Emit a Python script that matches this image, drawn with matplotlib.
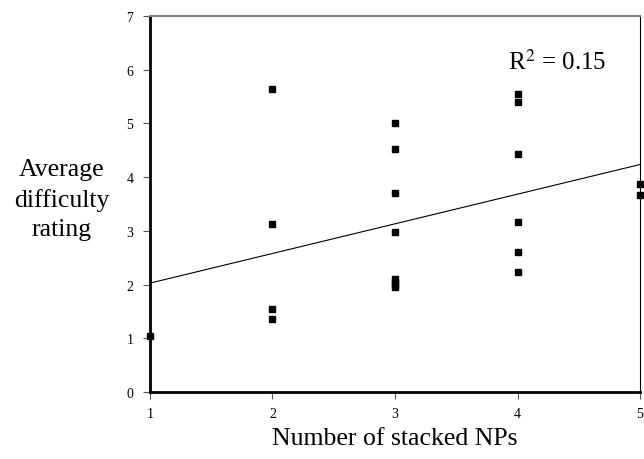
import numpy as np
import matplotlib
matplotlib.use('Agg')
import matplotlib.pyplot as plt

# data
stacked_nps = [1,
               2, 2, 2, 2,
               3, 3, 3, 3, 3, 3, 3, 3,
               4, 4, 4, 4, 4, 4,
               5, 5]
difficulty = [1.05,
              5.65, 3.13, 1.55, 1.35,
              5.0, 4.53, 3.7, 2.98, 2.1, 2.05, 2.0, 1.95,
              5.55, 5.4, 4.43, 3.17, 2.6, 2.24,
              3.87, 3.66]
x_ticks = [1, 2, 3, 4, 5]
y_ticks = [0, 1, 2, 3, 4, 5, 6, 7]

plt.rcParams['font.family'] = ['Liberation Serif', 'DejaVu Serif']

fig = plt.figure(figsize=(6.44, 4.6), dpi=100)
ax = fig.add_axes([0.2329, 0.1457, 0.7609, 0.8173])

ax.plot(stacked_nps, difficulty, 's', color='black', markersize=4.2,
        clip_on=False, zorder=3)

# trend line
slope, intercept = np.polyfit(stacked_nps, difficulty, 1)
xs = np.array([1, 5])
ax.plot(xs, slope * xs + intercept, color='black', linewidth=0.8)

ax.text(3.92, 6.16, r'R$^2$ = 0.15', fontsize=18, va='center', ha='left',
        math_fontfamily='stix')

ax.set_xlim(1, 5)
ax.set_ylim(0, 7)
ax.set_xticks(x_ticks)
ax.set_yticks(y_ticks)
ax.tick_params(axis='both', labelsize=10, length=5, width=0.8, color='#555555')
ax.tick_params(axis='y', pad=7)
ax.tick_params(axis='x', pad=6)

ax.spines['left'].set_linewidth(2)
ax.spines['bottom'].set_linewidth(2)
ax.spines['top'].set_color('#808080')
ax.spines['top'].set_linewidth(1.5)
ax.spines['right'].set_linewidth(0.8)

ax.set_xlabel('Number of stacked NPs', fontsize=18.5, labelpad=5)
fig.text(62 / 644, 1 - 200 / 460, 'Average\ndifficulty\nrating', fontsize=18.5,
         ha='center', va='center', linespacing=1.45)

fig.savefig('out.png', dpi=100)
